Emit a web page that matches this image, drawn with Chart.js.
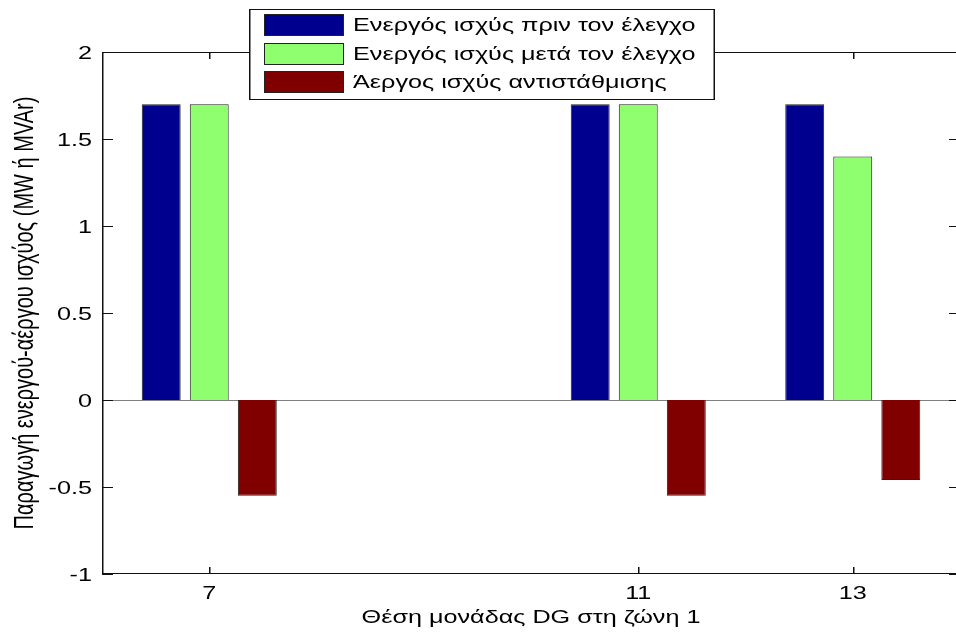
<!DOCTYPE html>
<html>
<head>
<meta charset="utf-8">
<script src="https://cdn.jsdelivr.net/npm/chart.js@4.4.1/dist/chart.umd.min.js"></script>
<style>
html, body { margin: 0; padding: 0; overflow: hidden; background: #fff; }
</style>
</head>
<body>
<canvas id="c" width="964" height="632"></canvas>
<script>
// ---- data ----
const positions = [7, 11, 13];
const seriesNames = [
  'Ενεργός ισχύς πριν τον έλεγχο',
  'Ενεργός ισχύς μετά τον έλεγχο',
  'Άεργος ισχύς αντιστάθμισης'
];
const activeBefore = [1.7, 1.7, 1.7];
const activeAfter = [1.7, 1.7, 1.4];
const reactiveComp = [-0.55, -0.55, -0.46];
const seriesColors = ['#00008F', '#8FFF6F', '#800000'];
const xTickValues = [7, 11, 13];
const yTickValues = [-1, -0.5, 0, 0.5, 1, 1.5, 2];
const xTitle = 'Θέση μονάδας DG στη ζώνη 1';
const yTitle = 'Παραγωγή ενεργού-αέργου ισχύος (MW ή MVAr)';

const seriesValues = [activeBefore, activeAfter, reactiveComp];
const FONT = "'Liberation Sans', Arial, sans-serif";
const TEXT_STRETCH = 1.4; // the reference image is horizontally stretched

// Draw all text horizontally stretched in device space, around its anchor point.
function stretchText(ctx) {
  if (ctx.__stretched) return;
  const orig = CanvasRenderingContext2D.prototype.fillText;
  ctx.fillText = function (text, x, y, maxWidth) {
    const m = this.getTransform();
    const px = m.a * x + m.c * y + m.e;
    this.save();
    this.setTransform(1, 0, 0, 1, 0, 0);
    this.translate(px, 0);
    this.scale(TEXT_STRETCH, 1);
    this.translate(-px, 0);
    this.transform(m.a, m.b, m.c, m.d, m.e, m.f);
    if (maxWidth === undefined) orig.call(this, text, x, y);
    else orig.call(this, text, x, y, maxWidth);
    this.restore();
  };
  ctx.__stretched = true;
}

const matlabAxes = {
  id: 'matlabAxes',
  beforeInit(chart) { stretchText(chart.ctx); },
  beforeDatasetsDraw(chart) {
    const {ctx, chartArea: a, scales: {y}} = chart;
    const y0 = Math.round(y.getPixelForValue(0));
    ctx.save();
    ctx.fillStyle = '#808080';
    ctx.fillRect(a.left, y0, a.right - a.left, 1);
    ctx.restore();
  },
  afterDatasetsDraw(chart) {
    const {ctx, chartArea: a, scales: {x, y}} = chart;
    const L = Math.round(a.left), R = Math.round(a.right) - 1;
    const T = Math.round(a.top), B = Math.round(a.bottom) - 1;
    const vw = 1.5;      // vertical line width (stretched look)
    const ytl = 11, xtl = 7;
    ctx.save();
    ctx.fillStyle = '#111';
    ctx.fillRect(L, T, R - L + 1, 1);
    ctx.fillRect(L, B, R - L + 1, 1);
    ctx.fillRect(L, T, vw, B - T + 1);
    ctx.fillRect(R, T, vw, B - T + 1);
    y.ticks.forEach(t => {
      const py = Math.round(y.getPixelForValue(t.value));
      ctx.fillRect(L, py, ytl, 1);
      ctx.fillRect(R - ytl + 1, py, ytl, 1);
    });
    x.ticks.forEach(t => {
      const px = Math.round(x.getPixelForValue(t.value));
      ctx.fillRect(px, B - xtl + 1, vw, xtl);
      ctx.fillRect(px, T, vw, xtl);
    });
    ctx.restore();
  },
  afterDraw(chart) {
    const {ctx} = chart;
    const box = {x: 249, y: 9, w: 466, h: 91};
    ctx.save();
    ctx.fillStyle = '#fff';
    ctx.fillRect(box.x, box.y, box.w, box.h);
    ctx.fillStyle = '#111';
    ctx.fillRect(box.x, box.y, box.w, 1);
    ctx.fillRect(box.x, box.y + box.h - 1, box.w, 1);
    ctx.fillRect(box.x, box.y, 1.5, box.h);
    ctx.fillRect(box.x + box.w - 1.5, box.y, 1.5, box.h);
    ctx.font = '18px ' + FONT;
    ctx.textBaseline = 'middle';
    ctx.textAlign = 'left';
    chart.data.datasets.forEach((ds, i) => {
      const sy = Math.round(14 + i * 28.5);
      ctx.fillStyle = '#222';
      ctx.fillRect(264, sy, 80, 22);
      ctx.fillStyle = ds.backgroundColor;
      ctx.fillRect(265, sy + 1, 78, 20);
      ctx.fillStyle = '#000';
      ctx.fillText(ds.label, 353, sy + 12);
    });
    ctx.restore();
  }
};

new Chart(document.getElementById('c'), {
  type: 'bar',
  data: {
    datasets: seriesValues.map((vals, i) => ({
      label: seriesNames[i],
      data: positions.map((p, k) => ({x: p, y: vals[k]})),
      backgroundColor: seriesColors[i],
      borderColor: '#222',
      borderWidth: 1,
      categoryPercentage: 0.672,
      barPercentage: 0.81
    }))
  },
  options: {
    responsive: false,
    animation: false,
    events: [],
    layout: { padding: { top: 52, right: 4, left: 0, bottom: 0 } },
    plugins: { legend: { display: false }, tooltip: { enabled: false } },
    scales: {
      x: {
        type: 'linear',
        min: 6, max: 14,
        offset: false,
        grid: { display: false, drawTicks: false },
        border: { display: false },
        afterBuildTicks(s) { s.ticks = xTickValues.map(v => ({value: v})); },
        afterFit(s) { s.height = 58; },
        ticks: {
          padding: 9,
          autoSkip: false,
          maxRotation: 0,
          color: '#000',
          font: { family: FONT, size: 18 },
          callback: v => String(v)
        },
        title: {
          display: true, text: xTitle, color: '#000',
          font: { family: FONT, size: 18 },
          padding: { top: 0, bottom: 3 }
        }
      },
      y: {
        min: -1, max: 2,
        grid: { display: false, drawTicks: false },
        border: { display: false },
        afterBuildTicks(s) { s.ticks = yTickValues.map(v => ({value: v})); },
        afterFit(s) { s.width = 102; },
        ticks: {
          padding: 10,
          labelOffset: 2,
          color: '#000',
          font: { family: FONT, size: 18 },
          callback: v => String(v)
        },
        title: {
          display: true, text: yTitle, color: '#000',
          font: { family: FONT, size: 20 },
          padding: { top: 13, bottom: 0 }
        }
      }
    }
  },
  plugins: [matlabAxes]
});
</script>
</body>
</html>
